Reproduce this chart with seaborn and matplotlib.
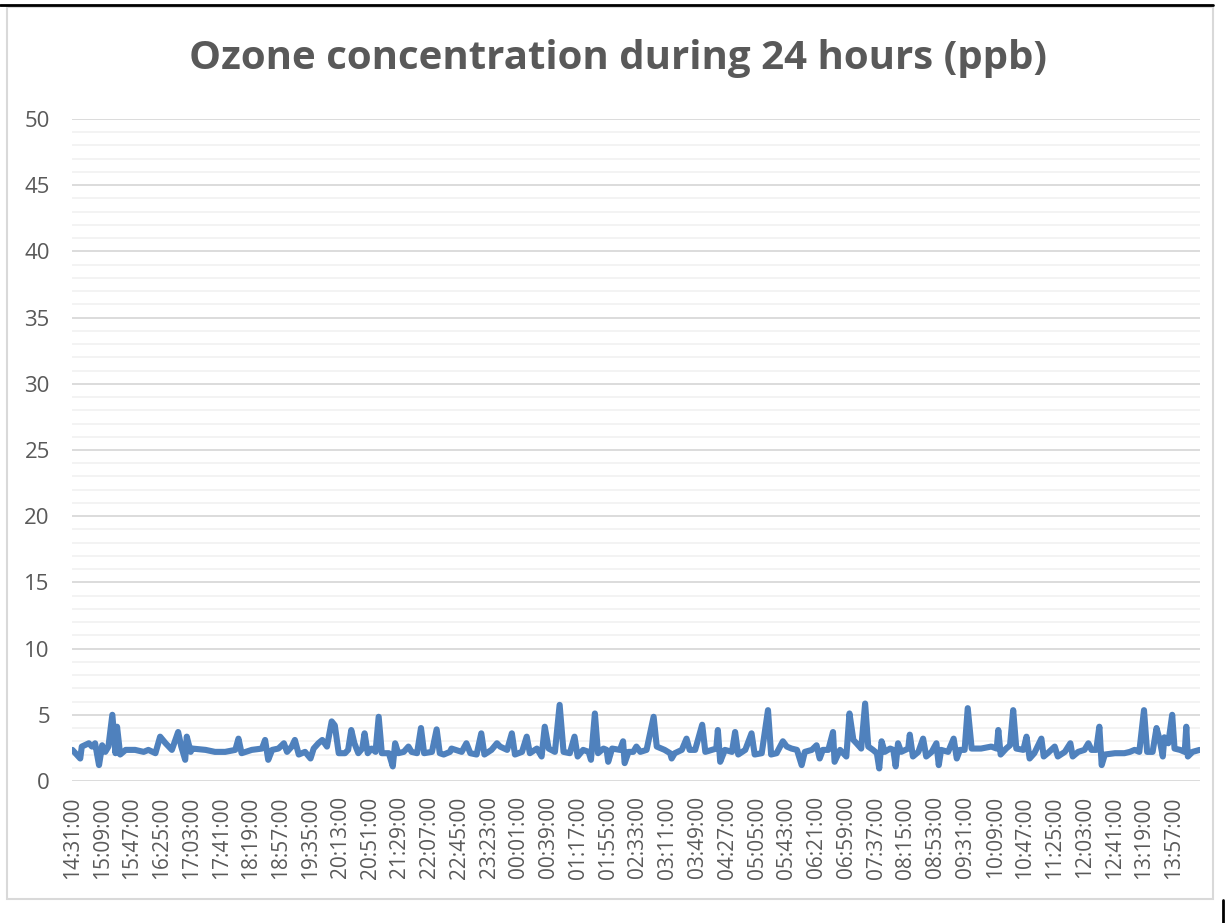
import matplotlib
matplotlib.use("Agg")
import matplotlib.pyplot as plt
from matplotlib.lines import Line2D
from matplotlib.patches import Rectangle
from matplotlib.ticker import MultipleLocator
import seaborn as sns

# ---- data (minutes after 14:31:00, ozone ppb) ----
minutes = [0, 10, 12, 21, 25, 29, 34, 38, 42, 46, 51, 55, 57, 61, 68, 80, 91, 97, 106, 112, 119, 127, 135, 139, 144, 146, 151,
           153, 170, 182, 195, 208, 212, 216, 229, 242, 246, 250, 255, 263, 270, 274, 280, 284, 289, 297, 304, 308, 314,
           319, 325, 331, 335, 340, 348, 352, 356, 360, 365, 370, 373, 377, 382, 387, 391, 395, 404, 409, 412, 416, 423, 429, 433, 440, 445, 449, 459, 465, 469, 474, 482,
           484, 497, 503, 508, 516, 522, 526, 535, 542, 546, 555, 561, 565, 574, 580, 584, 593, 599, 603, 608, 616, 622, 627, 635, 641, 645,
           652, 659, 662, 667, 671, 678, 682, 684, 689, 699, 703, 705, 710, 716, 720, 725, 733, 742, 746, 756, 763, 765, 769, 778, 784, 788, 795, 804, 808,
           822, 824, 827, 833, 842, 846, 850, 859, 867, 871, 880, 888, 892, 899, 907, 912, 918, 925, 931, 935, 944, 950, 954, 958, 965, 971, 973, 980,
           988, 992, 997, 1001, 1007, 1012, 1016, 1022, 1027, 1030, 1033, 1037, 1044, 1048, 1051, 1054, 1058, 1067, 1069, 1073, 1080, 1086, 1090, 1097, 1103, 1106, 1109, 1118, 1125, 1129, 1133, 1139, 1143,
           1148, 1160, 1173, 1180, 1182, 1185, 1192, 1197, 1201, 1205, 1214, 1218, 1222, 1228, 1237, 1240, 1245, 1254, 1258, 1267, 1274, 1277, 1284, 1292, 1297, 1301, 1307,
           1311, 1314, 1318, 1331, 1343, 1350, 1356, 1362, 1368, 1372, 1379, 1384, 1388, 1392, 1394, 1399, 1404, 1407, 1414, 1420, 1422, 1424, 1430, 1439]

ozone = [2.35, 1.7, 2.6, 2.85, 2.6, 2.85, 1.2, 2.7, 2.2, 2.6, 5.0, 2.1, 4.1, 2.0, 2.35, 2.35, 2.2, 2.35, 2.1, 3.35, 2.85, 2.35, 3.7, 2.6, 1.6, 3.35, 2.2,
         2.45, 2.35, 2.2, 2.2, 2.35, 3.2, 2.1, 2.35, 2.45, 3.1, 1.6, 2.35, 2.45, 2.85, 2.2, 2.6, 3.1, 2.0, 2.2, 1.7, 2.45, 2.85,
         3.1, 2.6, 4.5, 4.2, 2.1, 2.1, 2.35, 3.85, 2.85, 2.1, 2.45, 3.6, 2.1, 2.45, 2.2, 4.85, 2.1, 2.1, 1.1, 2.85, 2.1, 2.2, 2.6, 2.2, 2.1, 4.0, 2.1, 2.2, 3.9, 2.1, 2.0, 2.2,
         2.45, 2.2, 2.85, 2.1, 2.0, 3.6, 2.0, 2.35, 2.85, 2.6, 2.35, 3.6, 2.0, 2.2, 3.35, 2.1, 2.45, 1.85, 4.1, 2.45, 2.2, 5.75, 2.2, 2.1, 3.35, 1.85,
         2.35, 2.2, 1.6, 5.1, 2.1, 2.45, 2.35, 1.45, 2.45, 2.35, 3.0, 1.35, 2.2, 2.2, 2.6, 2.2, 2.35, 4.85, 2.6, 2.35, 2.1, 1.7, 2.1, 2.35, 3.2, 2.35, 2.35, 4.25, 2.2,
         2.45, 3.85, 1.45, 2.35, 2.2, 3.7, 2.0, 2.35, 3.6, 2.0, 2.1, 5.35, 2.0, 2.1, 3.0, 2.6, 2.45, 2.35, 1.2, 2.2, 2.35, 2.7, 1.7, 2.35, 2.35, 3.7, 1.45, 2.35,
         1.85, 5.1, 3.1, 2.85, 2.45, 5.85, 2.6, 2.35, 2.1, 0.95, 3.0, 2.2, 2.45, 2.35, 1.1, 2.85, 2.2, 2.45, 3.5, 1.85, 2.2, 3.2, 1.85, 2.2, 2.85, 1.2, 2.35, 2.2, 3.2, 1.7, 2.35, 2.35, 5.5,
         2.45, 2.45, 2.6, 2.45, 3.85, 2.0, 2.45, 2.7, 5.35, 2.45, 2.35, 3.35, 1.7, 2.1, 3.2, 1.85, 2.1, 2.6, 1.85, 2.2, 2.85, 1.85, 2.2, 2.35, 2.85, 2.35, 2.35,
         4.1, 1.2, 2.0, 2.1, 2.1, 2.2, 2.35, 2.2, 5.35, 2.2, 2.2, 4.0, 3.1, 1.85, 3.3, 2.85, 5.0, 2.45, 2.35, 2.2, 4.1, 1.85, 2.2, 2.35]

tick_labels = ["14:31:00", "15:09:00", "15:47:00", "16:25:00", "17:03:00", "17:41:00", "18:19:00", "18:57:00",
               "19:35:00", "20:13:00", "20:51:00", "21:29:00", "22:07:00", "22:45:00", "23:23:00", "00:01:00",
               "00:39:00", "01:17:00", "01:55:00", "02:33:00", "03:11:00", "03:49:00", "04:27:00", "05:05:00",
               "05:43:00", "06:21:00", "06:59:00", "07:37:00", "08:15:00", "08:53:00", "09:31:00", "10:09:00",
               "10:47:00", "11:25:00", "12:03:00", "12:41:00", "13:19:00", "13:57:00"]
tick_step = 38
title = "Ozone concentration during 24 hours (ppb)"

sns.set_theme(style="white")
plt.rcParams["font.family"] = ["Open Sans", "DejaVu Sans"]

W, H = 1225, 923
fig = plt.figure(figsize=(W / 100, H / 100), dpi=100)
fig.patch.set_facecolor("white")

ax_left, ax_right, ax_top, ax_bottom = 72, 1200, 119, 781
ax = fig.add_axes([ax_left / W, 1 - ax_bottom / H, (ax_right - ax_left) / W, (ax_bottom - ax_top) / H])

ax.set_ylim(0, 50)
ax.set_xlim(-0.5, 1439.5)
ax.yaxis.set_major_locator(MultipleLocator(5))
ax.yaxis.set_minor_locator(MultipleLocator(1))
ax.grid(which="minor", axis="y", color="#f2f2f2", linewidth=1.3, zorder=0)
ax.grid(which="major", axis="y", color="#d9d9d9", linewidth=1.3, zorder=0)
ax.grid(which="both", axis="x", visible=False)
ax.set_axisbelow(True)

sns.lineplot(x=minutes, y=ozone, ax=ax, color="#4f81bd", linewidth=4.4,
             solid_joinstyle="round", solid_capstyle="round", zorder=3)
for ln in ax.get_lines():
    ln.set_linewidth(4.4)
    ln.set_solid_joinstyle("round")
    ln.set_solid_capstyle("round")

ax.set_xticks([i * tick_step for i in range(len(tick_labels))])
ax.set_xticklabels(tick_labels, rotation=90, fontsize=15, color="#595959")
ax.tick_params(axis="x", length=0, pad=11)
ax.tick_params(axis="y", which="both", length=0, pad=16, labelsize=16, labelcolor="#595959")
ax.set_xlabel("")
ax.set_ylabel("")
for s in ax.spines.values():
    s.set_visible(False)

fig.text(618 / W, 1 - 59 / H, title, ha="center", va="center", fontsize=29,
         fontweight="bold", color="#595959")

# chart frame
fig.add_artist(Rectangle((7 / W, 1 - 899 / H), (1213 - 7) / W, (899 - 7) / H,
                         transform=fig.transFigure, fill=False, edgecolor="#d9d9d9", linewidth=1.5))
fig.add_artist(Line2D([0, 1213 / W], [1 - 5 / H, 1 - 5 / H], transform=fig.transFigure, color="black", linewidth=2))
fig.add_artist(Line2D([1223 / W, 1223 / W], [1 - 900 / H, 0], transform=fig.transFigure, color="black", linewidth=2))

fig.savefig("out.png", dpi=100)
